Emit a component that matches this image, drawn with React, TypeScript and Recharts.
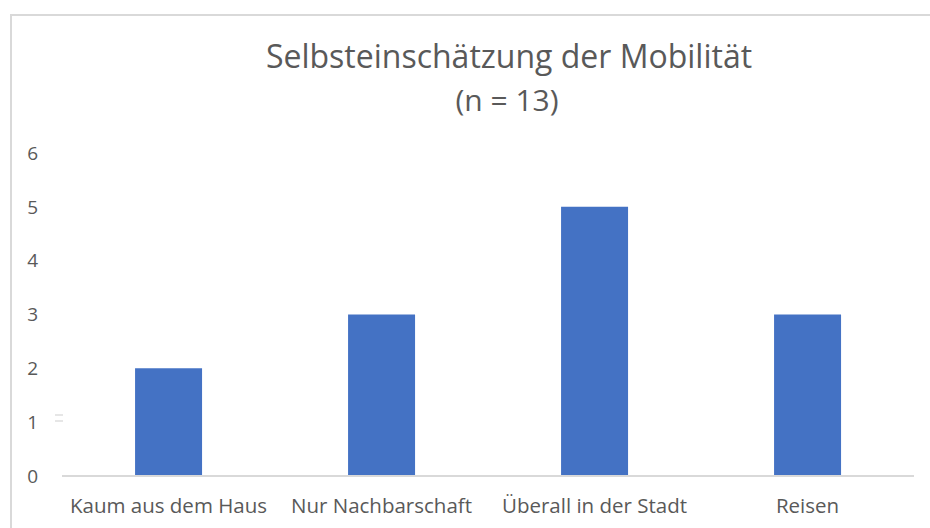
import React from "react";
import { BarChart, Bar, XAxis, YAxis } from "recharts";

const categories = ["Kaum aus dem Haus", "Nur Nachbarschaft", "Überall in der Stadt", "Reisen"];
const counts = [2, 3, 5, 3];
const yTicks = [0, 1, 2, 3, 4, 5, 6];
const title = "Selbsteinschätzung der Mobilität";
const subtitle = "(n = 13)";

const data = categories.map((c, i) => ({ name: c, value: counts[i] }));

const FONT = "'Open Sans', sans-serif";
const TEXT = "#595959";

export default function App() {
  return (
    <div style={{ position: "fixed", left: 0, top: 0, width: 930, height: 528, background: "#fff", overflow: "hidden" }}>
      <div
        style={{
          position: "absolute",
          left: 10,
          top: 14,
          right: -20,
          bottom: -20,
          borderTop: "2px solid #d9d9d9",
          borderLeft: "2px solid #d9d9d9",
        }}
      />
      <div style={{ position: "absolute", left: 0, top: 0 }}>
        <BarChart
          width={930}
          height={528}
          data={data}
          margin={{ top: 153, right: 16, bottom: 0, left: 0 }}
          barCategoryGap="34.3%"
        >
          <XAxis
            dataKey="name"
            height={52}
            axisLine={{ stroke: "#d9d9d9", strokeWidth: 2 }}
            tickLine={false}
            tickSize={0}
            tickMargin={22}
            interval={0}
            tick={{ fill: TEXT, fontSize: 20.5, fontFamily: FONT }}
          />
          <YAxis
            width={62}
            domain={[0, 6]}
            ticks={yTicks}
            axisLine={false}
            tickLine={false}
            tickSize={0}
            tickMargin={24}
            tick={{ fill: TEXT, fontSize: 19, fontFamily: FONT }}
          />
          <Bar dataKey="value" fill="#4472C4" isAnimationActive={false} />
        </BarChart>
      </div>
      <svg width={930} height={528} style={{ position: "absolute", left: 0, top: 0, pointerEvents: "none" }}>
        <text x={509} y={68} textAnchor="middle" fill={TEXT} fontSize={32} fontFamily={FONT}>
          {title}
        </text>
        <text x={507} y={111} textAnchor="middle" fill={TEXT} fontSize={30} fontFamily={FONT}>
          {subtitle}
        </text>
        <rect x={55} y={414} width={8} height={2} fill="#e6e6e6" />
        <rect x={55} y={420} width={8} height={2} fill="#e6e6e6" />
      </svg>
    </div>
  );
}
